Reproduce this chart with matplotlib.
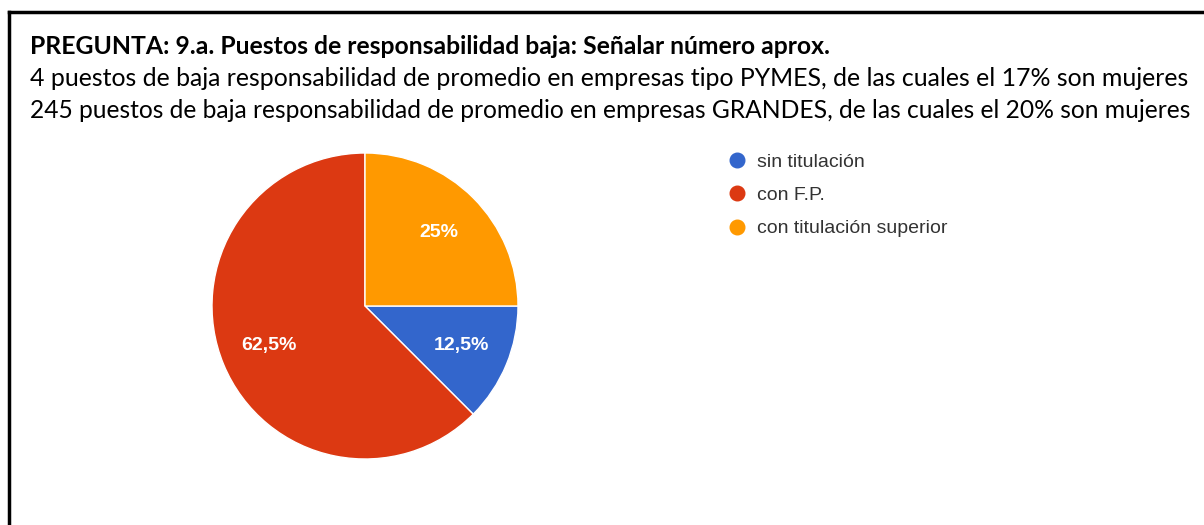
import matplotlib.pyplot as plt
from matplotlib.lines import Line2D

# Data
labels = ['sin titulación', 'con F.P.', 'con titulación superior']
values = [12.5, 62.5, 25]
pct_labels = ['12,5%', '62,5%', '25%']
colors = ['#3366CC', '#DC3912', '#FF9900']

title = 'PREGUNTA: 9.a. Puestos de responsabilidad baja: Señalar número aprox.'
line2 = '4 puestos de baja responsabilidad de promedio en empresas tipo PYMES, de las cuales el 17% son mujeres'
line3 = '245 puestos de baja responsabilidad de promedio en empresas GRANDES, de las cuales el 20% son mujeres'

W, H = 1204, 525
fig = plt.figure(figsize=(W / 100, H / 100), dpi=100)
fig.patch.set_facecolor('white')

# frame lines (left and top)
fig.add_artist(Line2D([9 / W, 9 / W], [0, 1 - 12 / H], color='black', lw=2.5))
fig.add_artist(Line2D([9 / W, 1], [1 - 12 / H, 1 - 12 / H], color='black', lw=2.5))

# header texts
fig.text(30 / W, 1 - 46 / H, title, fontsize=17.8, fontweight='bold', family='Lato', va='center')
fig.text(30 / W, 1 - 78 / H, line2, fontsize=17.9, family='Lato', va='center')
fig.text(30 / W, 1 - 110 / H, line3, fontsize=17.7, family='Lato', va='center')

# pie
cx, cy, r = 365, 306, 153
ax = fig.add_axes([(cx - r) / W, (H - cy - r) / H, 2 * r / W, 2 * r / H])
wedges, texts = ax.pie(values, colors=colors, startangle=0, counterclock=False,
                       wedgeprops=dict(edgecolor='white', linewidth=1),
                       labels=pct_labels, labeldistance=0.68,
                       textprops=dict(color='white', fontsize=14, fontweight='bold',
                                      family='Liberation Sans'))
for t in texts:
    t.set_ha('center')
    t.set_va('center')
ax.set_xlim(-1, 1)
ax.set_ylim(-1, 1)
ax.set_aspect('equal')

# legend
handles = [Line2D([], [], marker='o', linestyle='', markersize=10.5, color=c) for c in colors]
fig.legend(handles, labels, loc='upper left', bbox_to_anchor=(726 / W, 1 - 153.5 / H),
           frameon=False, prop=dict(family='Liberation Sans', size=14),
           labelcolor='#333333', handletextpad=0.5, labelspacing=0.8, borderaxespad=0,
           borderpad=0, handlelength=1.1)

fig.savefig('out.png', dpi=100, facecolor='white')
